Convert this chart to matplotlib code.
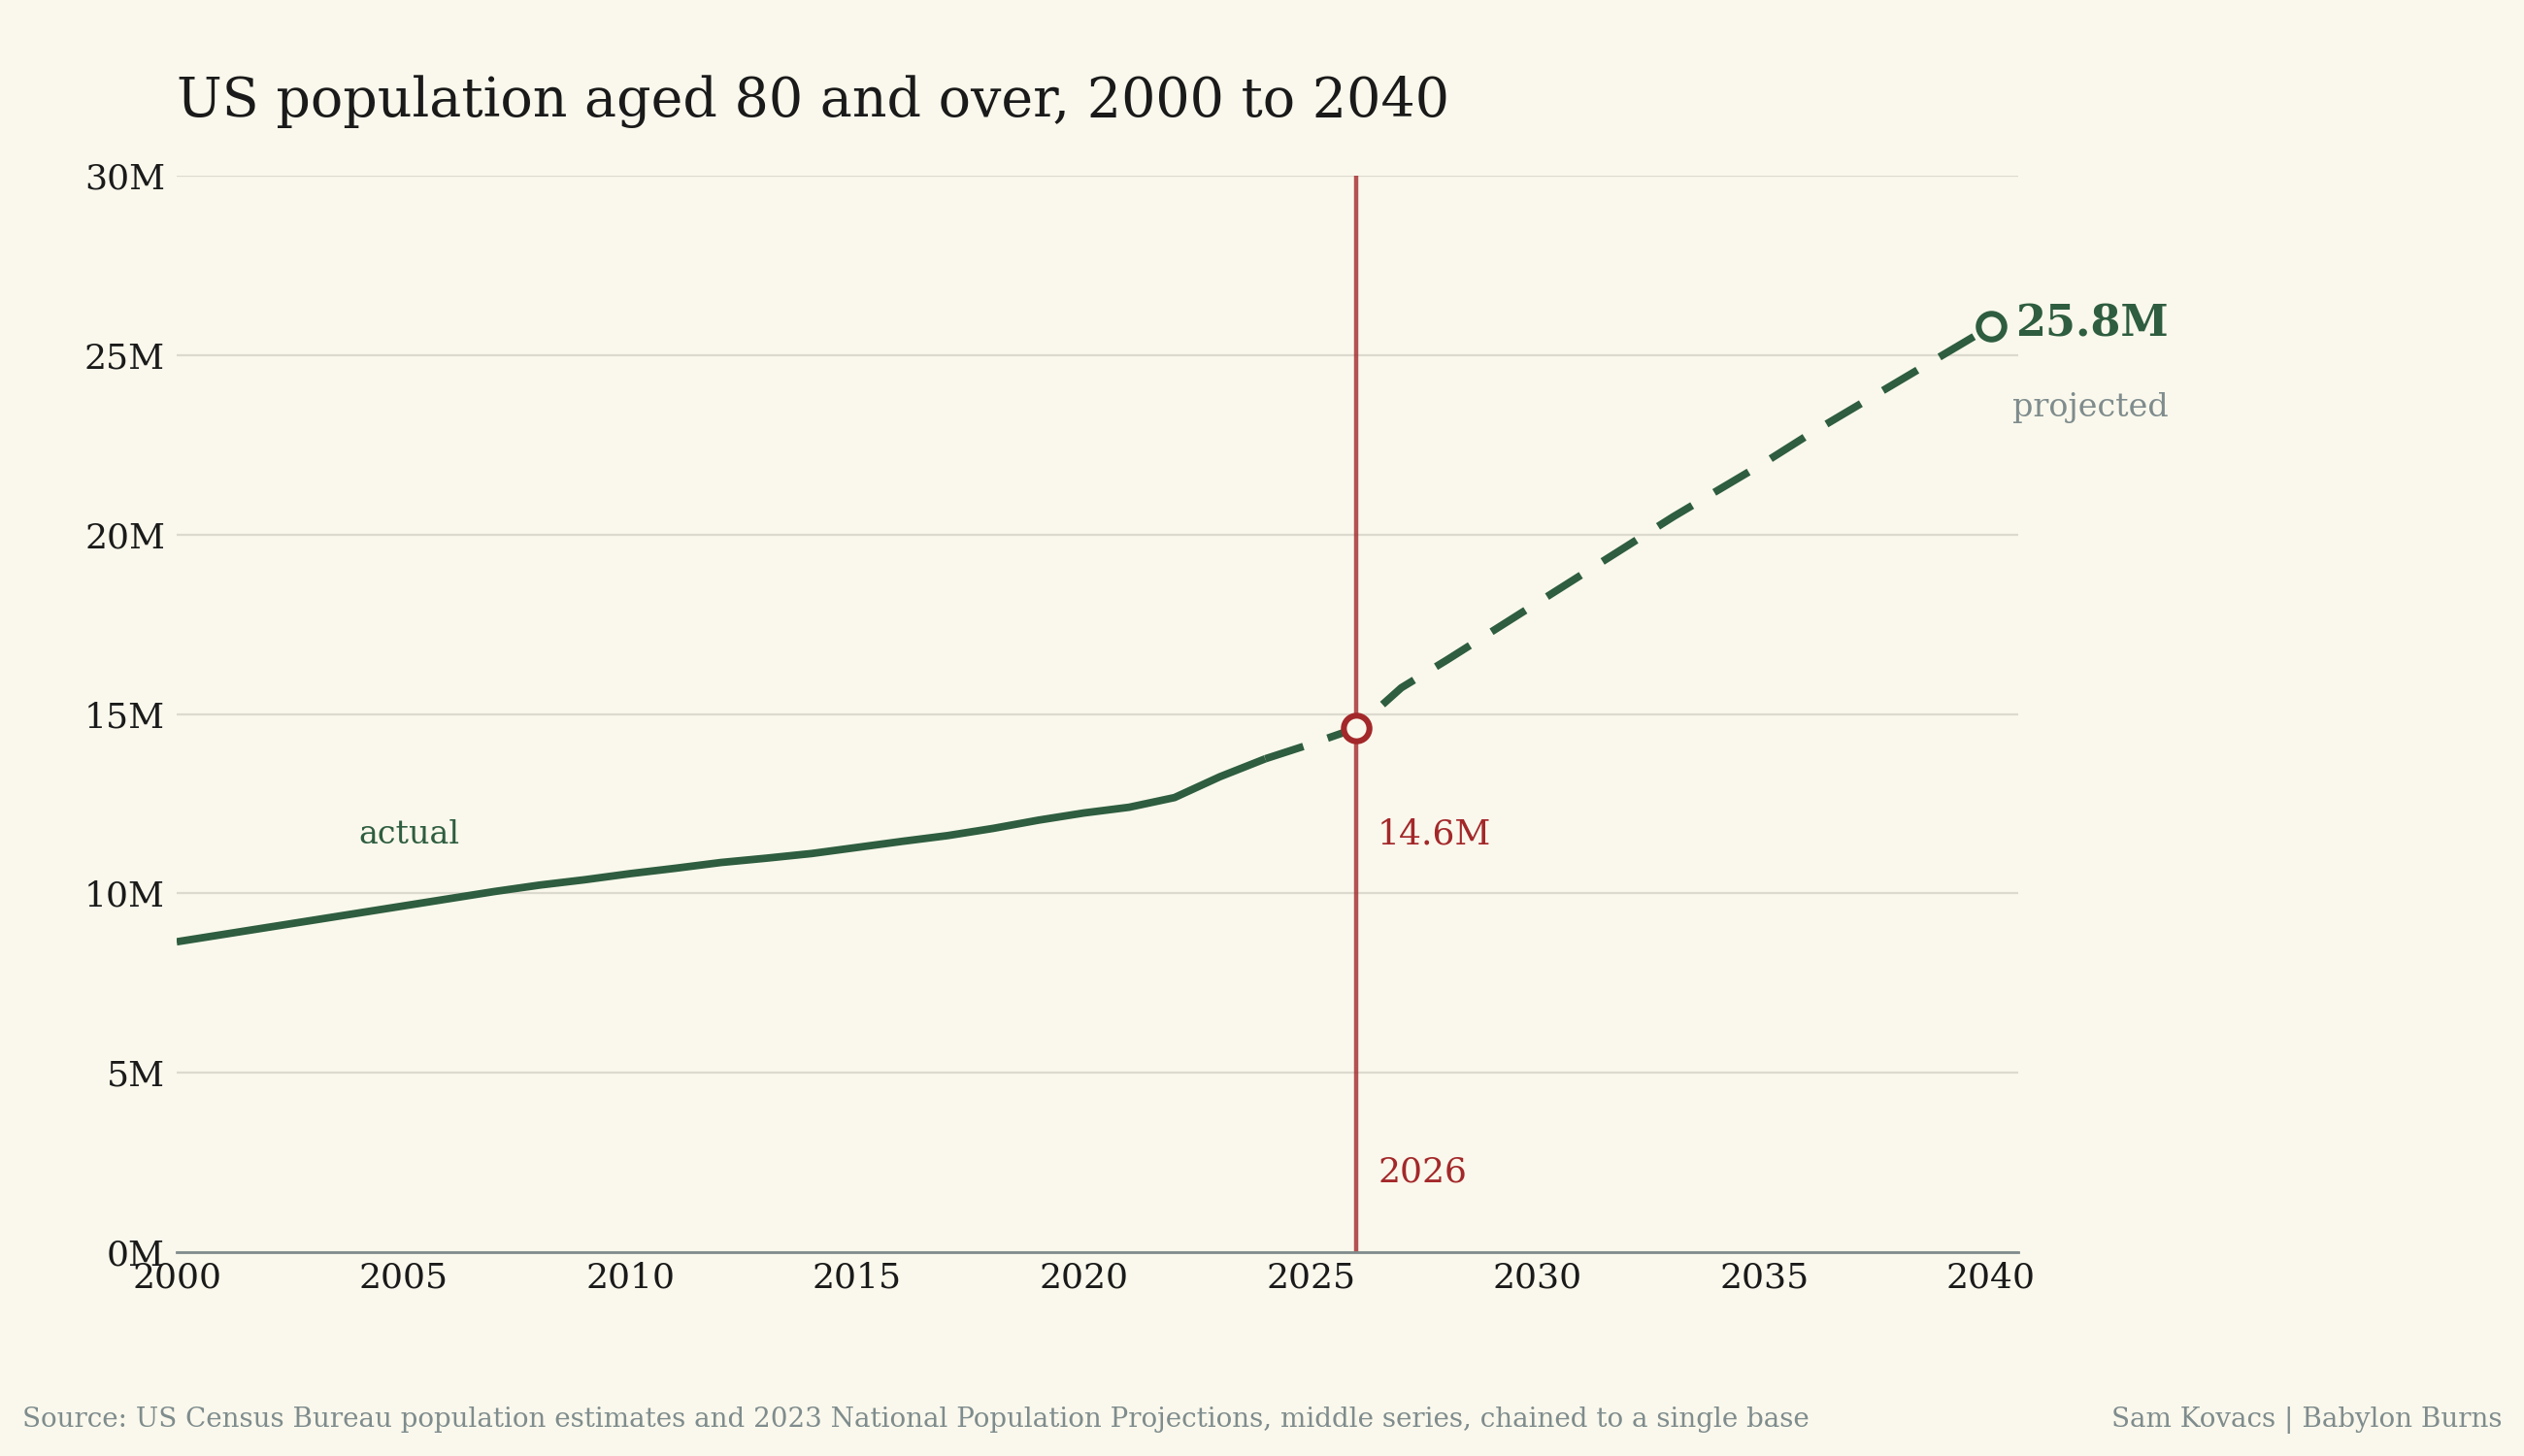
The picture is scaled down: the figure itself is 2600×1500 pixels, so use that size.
import matplotlib
matplotlib.use("Agg")
import matplotlib.pyplot as plt
from matplotlib.ticker import FuncFormatter

# --- data (millions) ---
years_actual = list(range(2000, 2025))
pop_actual = [8.65, 8.85, 9.05, 9.25, 9.45, 9.65, 9.85, 10.05, 10.23, 10.38,
              10.55, 10.70, 10.86, 10.98, 11.11, 11.28, 11.45, 11.61, 11.81, 12.04,
              12.24, 12.40, 12.67, 13.25, 13.75]
years_proj = list(range(2024, 2041))
pop_proj = [13.75, 14.16, 14.60, 15.73, 16.50, 17.30, 18.10, 18.90, 19.70, 20.50,
            21.25, 22.00, 22.80, 23.55, 24.30, 25.05, 25.80]
mark_year = 2026
mark_value = 14.6
end_year = 2040
end_value = 25.8
y_ticks = [0, 5, 10, 15, 20, 25, 30]
x_ticks = [2000, 2005, 2010, 2015, 2020, 2025, 2030, 2035, 2040]

BG = "#faf8ec"
GREEN = "#2e5d3f"
RED = "#a3282a"
GREY = "#7f8c8d"
INK = "#1a1a1a"

plt.rcParams["font.family"] = ["DejaVu Serif"]

fig = plt.figure(figsize=(13, 7.5), dpi=200, facecolor=BG)
ax = fig.add_axes([0.07, 0.14, 0.7296, 0.7393], facecolor=BG)

# gridlines
ax.set_yticks(y_ticks)
ax.set_xticks(x_ticks)
ax.grid(axis="y", color="#dcdace", lw=0.8, zorder=0)
ax.grid(axis="x", visible=False)

# 2026 reference line
ax.axvline(mark_year, color=RED, alpha=0.8, lw=1.6, zorder=2)

# series
ax.plot(years_actual, pop_actual, color=GREEN, lw=2.8, solid_capstyle="butt", zorder=3)
ax.plot(years_proj, pop_proj, color=GREEN, lw=2.8, linestyle=(0, (5.3, 3.4)),
        dash_capstyle="butt", zorder=3)

# markers
ax.plot([mark_year], [mark_value], "o", ms=9.5, mfc=BG, mec=RED, mew=2.2, zorder=5)
ax.plot([end_year], [end_value], "o", ms=9.5, mfc=BG, mec=GREEN, mew=2.2, zorder=5)

ax.set_xlim(2000, 2040.6)
ax.set_ylim(0, 30)

# labels
ax.text(2004, 11.4, "actual", color=GREEN, fontsize=12, va="baseline", ha="left")
ax.annotate(f"{mark_value}M", (mark_year, mark_value), xytext=(8, -43),
            textcoords="offset points", color=RED, fontsize=13, va="baseline", ha="left")
ax.annotate(str(mark_year), (mark_year, 0), xytext=(8, 26),
            textcoords="offset points", color=RED, fontsize=13, va="baseline", ha="left")
ax.annotate(f"{end_value}M", (end_year, end_value), xytext=(9, 1),
            textcoords="offset points", color=GREEN, fontsize=16, fontweight="bold",
            va="center", ha="left", annotation_clip=False)
ax.annotate("projected", (end_year, end_value), xytext=(8, -33.5),
            textcoords="offset points", color=GREY, fontsize=12,
            va="baseline", ha="left", annotation_clip=False)

# axes styling
for side in ["top", "right", "left"]:
    ax.spines[side].set_visible(False)
ax.spines["bottom"].set_color("#808b8c")
ax.spines["bottom"].set_linewidth(1.0)
ax.tick_params(axis="both", length=0, labelsize=13, labelcolor=INK)
ax.tick_params(axis="y", pad=4.3)
ax.tick_params(axis="x", pad=3.5)
ax.yaxis.set_major_formatter(FuncFormatter(lambda v, p: f"{int(v)}M"))

# title & footer
fig.text(0.07, 0.92, "US population aged 80 and over, 2000 to 2040",
         fontsize=20, color=INK, ha="left", va="baseline")
fig.text(0.0087, 0.02,
         "Source: US Census Bureau population estimates and 2023 National Population "
         "Projections, middle series, chained to a single base",
         fontsize=10, color=GREY, ha="left", va="baseline")
fig.text(0.9915, 0.02, "Sam Kovacs | Babylon Burns",
         fontsize=10, color=GREY, ha="right", va="baseline")

fig.savefig("out.png", dpi=200, facecolor=BG)
